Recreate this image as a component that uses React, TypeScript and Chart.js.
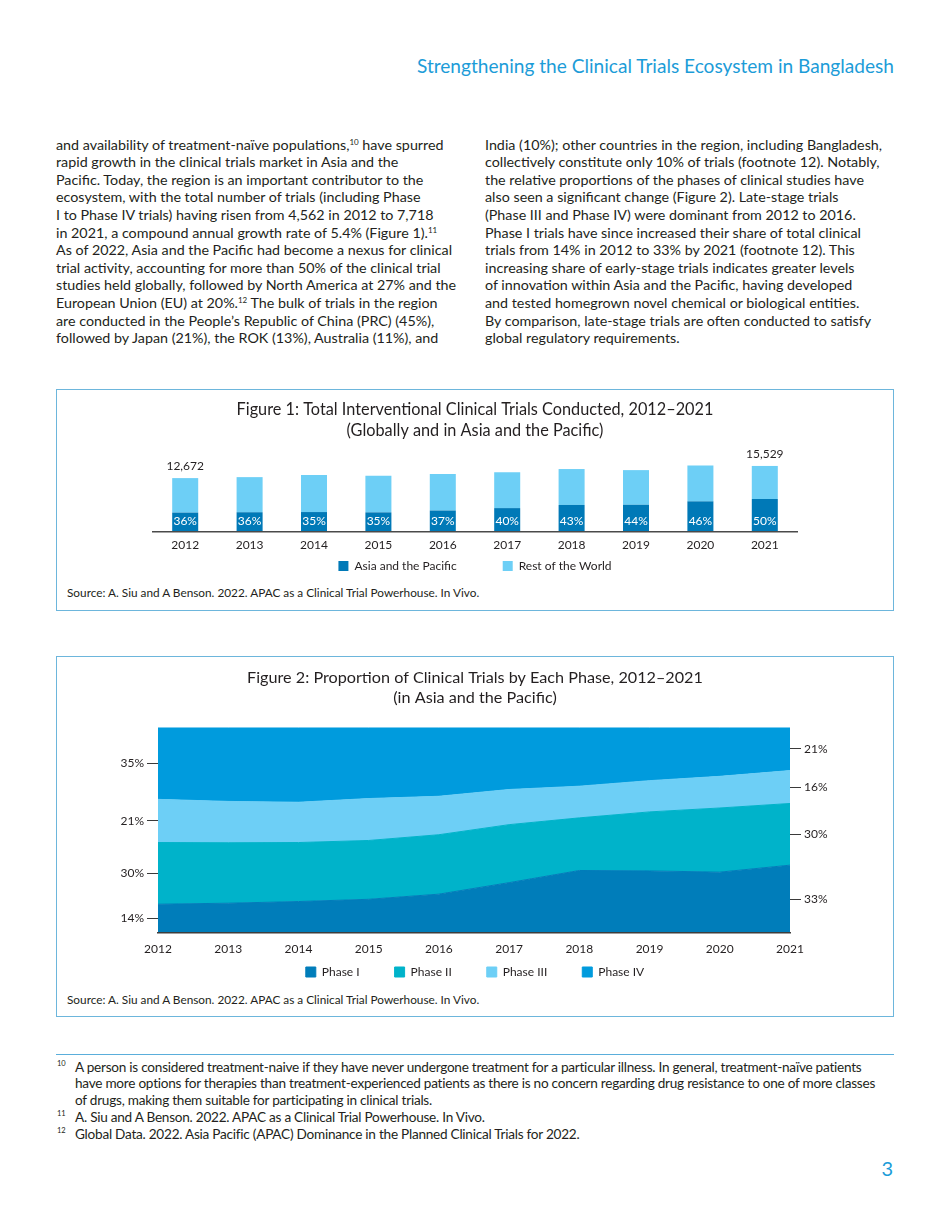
import React, { useEffect, useRef } from 'react';
import { Chart, registerables } from 'chart.js';

Chart.register(...registerables);
Chart.defaults.font.family = 'Lato, "Noto Sans", sans-serif';
Chart.defaults.color = '#231f20';

// ---------- Figure 1 data ----------
const fig1Years = ['2012', '2013', '2014', '2015', '2016', '2017', '2018', '2019', '2020', '2021'];
const fig1TotalTrials = [12672, 12900, 13400, 13200, 13650, 14050, 14800, 14550, 15650, 15529];
const fig1AsiaSharePct = [36, 36, 35, 35, 37, 40, 43, 44, 46, 50];
const fig1LabeledTotals = ['2012', '2021'];
const fig1SeriesNames = ['Asia and the Pacific', 'Rest of the World'];

// ---------- Figure 2 data (share %, stacked to 100) ----------
const fig2Years = ['2012', '2013', '2014', '2015', '2016', '2017', '2018', '2019', '2020', '2021'];
const fig2PhaseI = [14, 14.5, 15.3, 16.4, 18.9, 24.5, 30.4, 30.2, 29.6, 33];
const fig2PhaseII = [30, 29.4, 28.7, 28.6, 28.9, 28.2, 25.6, 28.7, 31.2, 30];
const fig2PhaseIII = [21, 20.1, 19.6, 20.4, 18.7, 17.1, 15.4, 15.2, 15.4, 16];
const fig2PhaseIV = [35, 36, 36.4, 34.6, 33.5, 30.2, 28.6, 25.9, 23.8, 21];
const fig2SeriesNames = ['Phase I', 'Phase II', 'Phase III', 'Phase IV'];

const C_DARK = '#0079b7';
const C_LIGHT = '#6dcff6';
const C_P1 = '#007dba';
const C_P2 = '#00b3ca';
const C_P3 = '#6dcff6';
const C_P4 = '#009bdd';
const TEXT = '#231f20';
const BOX = '#6db6dc';

const fig2Phases = [fig2PhaseI, fig2PhaseII, fig2PhaseIII, fig2PhaseIV];

function bandMids(idx: number): number[] {
  let acc = 0;
  return fig2Phases.map((p) => {
    const mid = acc + p[idx] / 2;
    acc += p[idx];
    return mid;
  });
}
function bandLabels(idx: number): string[] {
  return fig2Phases.map((p) => Math.round(p[idx]) + '%');
}

const barLabelPlugin = {
  id: 'barLabels',
  afterDatasetsDraw(chart: any) {
    const ctx = chart.ctx;
    const metaA = chart.getDatasetMeta(0);
    const metaR = chart.getDatasetMeta(1);
    ctx.save();
    ctx.font = '12px Lato, sans-serif';
    ctx.textAlign = 'center';
    ctx.textBaseline = 'middle';
    metaA.data.forEach((bar: any, i: number) => {
      ctx.fillStyle = '#ffffff';
      ctx.fillText(fig1AsiaSharePct[i] + '%', bar.x, bar.base - 11);
    });
    ctx.fillStyle = TEXT;
    fig1Years.forEach((yr, i) => {
      if (fig1LabeledTotals.indexOf(yr) >= 0) {
        const b = metaR.data[i];
        ctx.fillText(fig1TotalTrials[i].toLocaleString('en-US'), b.x, b.y - 12);
      }
    });
    ctx.restore();
  },
};

// legend whose horizontal item gap is `gap`, with rows pulled up so items sit `rowOffset` px below the legend top
function legendOptions(gap: number, rowOffset: number) {
  const titleH = rowOffset - gap; // negative spacer
  const fontLH = 1.2;
  const pad = (titleH - fontLH) / 2;
  return {
    position: 'bottom',
    labels: { boxWidth: 10, boxHeight: 10, padding: gap, font: { size: 12 }, color: TEXT },
    title: { display: true, text: '', font: { size: 1, lineHeight: fontLH }, padding: { top: pad, bottom: pad } },
  };
}

function Figure1() {
  const ref = useRef<HTMLCanvasElement>(null);
  useEffect(() => {
    const asia = fig1TotalTrials.map((t, i) => (t * fig1AsiaSharePct[i]) / 100);
    const rest = fig1TotalTrials.map((t, i) => t - asia[i]);
    const chart = new Chart(ref.current as HTMLCanvasElement, {
      type: 'bar',
      data: {
        labels: fig1Years,
        datasets: [
          { label: fig1SeriesNames[0], data: asia, backgroundColor: C_DARK, borderWidth: 0, barPercentage: 0.404, categoryPercentage: 1 },
          { label: fig1SeriesNames[1], data: rest, backgroundColor: C_LIGHT, borderWidth: 0, barPercentage: 0.404, categoryPercentage: 1 },
        ],
      },
      options: {
        responsive: false,
        animation: false,
        layout: { padding: { left: 96, right: 96, top: 0, bottom: 0 } },
        scales: {
          x: {
            stacked: true,
            grid: { display: false, drawTicks: false },
            border: { display: true, color: '#4a4a4a', width: 1.5, z: 1 },
            ticks: { padding: 6, font: { size: 12 }, color: TEXT, maxRotation: 0, autoSkip: false },
            afterFit: (s: any) => { s.height = 22; },
          },
          y: { stacked: true, display: false, min: 0, max: 20000 },
        },
        plugins: {
          title: {
            display: true,
            text: ['Figure 1: Total Interventional Clinical Trials Conducted, 2012–2021', '(Globally and in Asia and the Pacific)'],
            font: { size: 16.3, weight: 'normal', lineHeight: 1.28 },
            color: TEXT,
            padding: { top: 8.6, bottom: 5.6 },
          },
          legend: legendOptions(46, 6),
          tooltip: { enabled: false },
        },
      } as any,
      plugins: [barLabelPlugin],
    });
    return () => chart.destroy();
  }, []);
  return <canvas ref={ref} width={836} height={191} style={{ position: 'absolute', left: 57, top: 391 }} />;
}

function Figure2() {
  const ref = useRef<HTMLCanvasElement>(null);
  useEffect(() => {
    const colors = [C_P1, C_P2, C_P3, C_P4];
    const leftVals = bandMids(0);
    const leftLabs = bandLabels(0);
    const lastIdx = fig2Years.length - 1;
    const rightVals = bandMids(lastIdx);
    const rightLabs = bandLabels(lastIdx);
    const tickGrid = { display: true, drawOnChartArea: false, drawTicks: true, tickLength: 11, color: '#3a3a3a', lineWidth: 1 };
    const chart = new Chart(ref.current as HTMLCanvasElement, {
      type: 'line',
      data: {
        labels: fig2Years,
        datasets: fig2Phases.map((p, i) => ({
          label: fig2SeriesNames[i],
          data: p,
          backgroundColor: colors[i],
          borderColor: colors[i],
          borderWidth: 1,
          pointRadius: 0,
          tension: 0,
          fill: i === 0 ? 'origin' : '-1',
        })),
      },
      options: {
        responsive: false,
        animation: false,
        layout: { padding: 0 },
        scales: {
          x: {
            grid: { display: false, drawTicks: false },
            border: { display: true, color: '#3d3d3d', width: 1.5, z: 1 },
            ticks: { padding: 9, font: { size: 12 }, color: TEXT, maxRotation: 0, autoSkip: false },
            afterFit: (s: any) => { s.height = 22; },
          },
          y: {
            position: 'left',
            stacked: true,
            min: 0,
            max: 100,
            grid: tickGrid,
            border: { display: false },
            ticks: { padding: 3, font: { size: 12 }, color: TEXT, autoSkip: false, callback: (_v: any, i: number) => leftLabs[i] },
            afterBuildTicks: (s: any) => { s.ticks = leftVals.map((v) => ({ value: v })); },
            afterFit: (s: any) => { s.width = 101; },
          },
          y2: {
            position: 'right',
            min: 0,
            max: 100,
            grid: tickGrid,
            border: { display: false },
            ticks: { padding: 3, font: { size: 12 }, color: TEXT, autoSkip: false, callback: (_v: any, i: number) => rightLabs[i] },
            afterBuildTicks: (s: any) => { s.ticks = rightVals.map((v) => ({ value: v })); },
            afterFit: (s: any) => { s.width = 103; },
          },
        },
        plugins: {
          title: {
            display: true,
            text: ['Figure 2: Proportion of Clinical Trials by Each Phase, 2012–2021', '(in Asia and the Pacific)'],
            font: { size: 16.2, weight: 'normal', lineHeight: 1.25 },
            color: TEXT,
            padding: { top: 10.6, bottom: 19.3 },
          },
          legend: legendOptions(35, 11),
          tooltip: { enabled: false },
          filler: { propagate: false },
        },
      } as any,
    });
    return () => chart.destroy();
  }, []);
  return <canvas ref={ref} width={836} height={331} style={{ position: 'absolute', left: 57, top: 657 }} />;
}

const supStyle: React.CSSProperties = { fontSize: 8, verticalAlign: 5, lineHeight: 0 };

const col1Lines: React.ReactNode[] = [
  <>and availability of treatment-naïve populations,<sup style={supStyle}>10</sup> have spurred</>,
  'rapid growth in the clinical trials market in Asia and the',
  'Pacific. Today, the region is an important contributor to the',
  'ecosystem, with the total number of trials (including Phase',
  'I to Phase IV trials) having risen from 4,562 in 2012 to 7,718',
  <>in 2021, a compound annual growth rate of 5.4% (Figure 1).<sup style={supStyle}>11</sup></>,
  'As of 2022, Asia and the Pacific had become a nexus for clinical',
  'trial activity, accounting for more than 50% of the clinical trial',
  'studies held globally, followed by North America at 27% and the',
  <>European Union (EU) at 20%.<sup style={supStyle}>12</sup> The bulk of trials in the region</>,
  'are conducted in the People’s Republic of China (PRC) (45%),',
  'followed by Japan (21%), the ROK (13%), Australia (11%), and',
];

const col2Lines: string[] = [
  'India (10%); other countries in the region, including Bangladesh,',
  'collectively constitute only 10% of trials (footnote 12). Notably,',
  'the relative proportions of the phases of clinical studies have',
  'also seen a significant change (Figure 2). Late-stage trials',
  '(Phase III and Phase IV) were dominant from 2012 to 2016.',
  'Phase I trials have since increased their share of total clinical',
  'trials from 14% in 2012 to 33% by 2021 (footnote 12). This',
  'increasing share of early-stage trials indicates greater levels',
  'of innovation within Asia and the Pacific, having developed',
  'and tested homegrown novel chemical or biological entities.',
  'By comparison, late-stage trials are often conducted to satisfy',
  'global regulatory requirements.',
];

const footnotes: { num: string; lines: string[] }[] = [
  {
    num: '10',
    lines: [
      'A person is considered treatment-naive if they have never undergone treatment for a particular illness. In general, treatment-naïve patients',
      'have more options for therapies than treatment-experienced patients as there is no concern regarding drug resistance to one of more classes',
      'of drugs, making them suitable for participating in clinical trials.',
    ],
  },
  { num: '11', lines: ['A. Siu and A Benson. 2022. APAC as a Clinical Trial Powerhouse. In Vivo.'] },
  { num: '12', lines: ['Global Data. 2022. Asia Pacific (APAC) Dominance in the Planned Clinical Trials for 2022.'] },
];

export default function App() {
  const bodyStyle: React.CSSProperties = {
    position: 'absolute',
    top: 135.6,
    fontSize: 14.3,
    lineHeight: '17.6px',
    color: TEXT,
    whiteSpace: 'nowrap',
  };
  return (
    <div
      style={{
        position: 'absolute',
        left: 0,
        top: 0,
        width: 950,
        height: 1230,
        background: '#ffffff',
        fontFamily: 'Lato, "Noto Sans", sans-serif',
        overflow: 'hidden',
      }}
    >
      <div
        style={{
          position: 'absolute',
          right: 56,
          top: 53,
          fontSize: 19.1,
          lineHeight: '26px',
          color: '#1c9cd8',
          fontWeight: 400,
          whiteSpace: 'nowrap',
        }}
      >
        Strengthening the Clinical Trials Ecosystem in Bangladesh
      </div>

      <div style={{ ...bodyStyle, left: 56 }}>
        {col1Lines.map((l, i) => (
          <div key={i}>{l}</div>
        ))}
      </div>
      <div style={{ ...bodyStyle, left: 485 }}>
        {col2Lines.map((l, i) => (
          <div key={i}>{l}</div>
        ))}
      </div>

      {/* Figure 1 box */}
      <div style={{ position: 'absolute', left: 56, top: 389, width: 836, height: 220, border: `1px solid ${BOX}` }} />
      <Figure1 />
      <div style={{ position: 'absolute', left: 67, top: 585, fontSize: 11.8, lineHeight: '16px', color: TEXT, whiteSpace: 'nowrap' }}>
        Source: A. Siu and A Benson. 2022. APAC as a Clinical Trial Powerhouse. In Vivo.
      </div>

      {/* Figure 2 box */}
      <div style={{ position: 'absolute', left: 56, top: 656, width: 836, height: 359, border: `1px solid ${BOX}` }} />
      <Figure2 />
      <div style={{ position: 'absolute', left: 67, top: 992, fontSize: 11.8, lineHeight: '16px', color: TEXT, whiteSpace: 'nowrap' }}>
        Source: A. Siu and A Benson. 2022. APAC as a Clinical Trial Powerhouse. In Vivo.
      </div>

      {/* Footnotes */}
      <div style={{ position: 'absolute', left: 56, top: 1054, width: 838, height: 1, background: '#5aaedb' }} />
      <div style={{ position: 'absolute', left: 56, top: 1058.6, fontSize: 13.6, lineHeight: '16.75px', color: TEXT, whiteSpace: 'nowrap', letterSpacing: -0.25 }}>
        {footnotes.map((f) =>
          f.lines.map((l, j) => (
            <div key={f.num + '-' + j} style={{ position: 'relative', paddingLeft: 19 }}>
              {j === 0 ? (
                <span style={{ position: 'absolute', left: 1, top: -3, fontSize: 7.5, letterSpacing: 0 }}>{f.num}</span>
              ) : null}
              {l}
            </div>
          ))
        )}
      </div>

      <div style={{ position: 'absolute', right: 57, top: 1155, fontSize: 20, lineHeight: '26px', color: '#1c9cd8' }}>3</div>
    </div>
  );
}
